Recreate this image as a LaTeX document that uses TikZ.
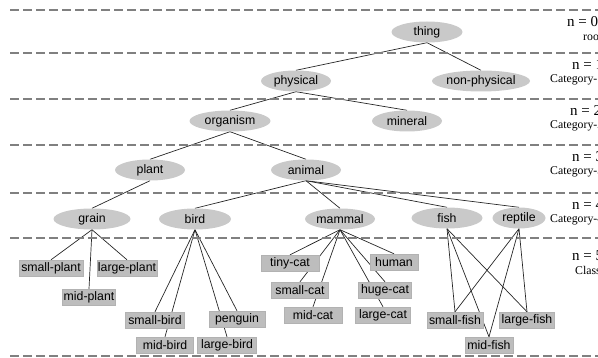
\documentclass[tikz,border=0pt]{standalone}
\usepackage{fontspec}
\setmainfont{Liberation Sans}
\newfontfamily\labelserif{Liberation Serif}
\usetikzlibrary{shapes.geometric,backgrounds}
\begin{document}
\begin{tikzpicture}[x=1pt,y=-1pt,
  ell/.style={ellipse, fill=black!21, inner sep=0pt, minimum height=21pt, font=\fontsize{12.3}{14}\selectfont},
  leaf/.style={rectangle, fill=black!26, draw=black!30, line width=0.4pt, inner sep=0pt, minimum height=16pt, font=\fontsize{12.3}{14}\selectfont},
  edge/.style={draw=black!85, line width=0.7pt},
  band/.style={draw=black!50, line width=1.3pt, dash pattern=on 9pt off 4pt},
  lvl/.style={anchor=west, inner sep=0pt, font=\labelserif\fontsize{15}{17}\selectfont},
  cat/.style={anchor=west, inner sep=0pt, font=\labelserif\fontsize{11.8}{13}\selectfont}]
\useasboundingbox (0,0) rectangle (598,358);
\clip (0,0) rectangle (598,358);

% level separators
\foreach \yy in {10,53,99,145,193,238,356}
  \draw[band] (10,\yy) -- (600,\yy);

% concept nodes
\node[ell, minimum width=71pt] (thing) at (427,32) {thing};
\node[ell, minimum width=70pt] (physical) at (296,81) {physical};
\node[ell, minimum width=98pt] (nonphys) at (481,81) {non-physical};
\node[ell, minimum width=81pt] (organism) at (230,121) {organism};
\node[ell, minimum width=70pt] (mineral) at (407,121) {mineral};
\node[ell, minimum width=70pt] (plant) at (150,170) {plant};
\node[ell, minimum width=70pt] (animal) at (306,170) {animal};
\node[ell, minimum width=77pt] (grain) at (92,219) {grain};
\node[ell, minimum width=72pt] (bird) at (195,219) {bird};
\node[ell, minimum width=70pt] (mammal) at (340,219) {mammal};
\node[ell, minimum width=71pt] (fish) at (447,218) {fish};
\node[ell, minimum width=53pt] (reptile) at (519,218) {reptile};

% class nodes
\node[leaf, minimum width=64pt] (smallplant) at (51,268) {small-plant};
\node[leaf, minimum width=60pt] (largeplant) at (127,268) {large-plant};
\node[leaf, minimum width=53pt] (midplant) at (89,297) {mid-plant};
\node[leaf, minimum width=59pt] (smallbird) at (155,320) {small-bird};
\node[leaf, minimum width=57pt] (midbird) at (165,345) {mid-bird};
\node[leaf, minimum width=56pt] (penguin) at (237,319) {penguin};
\node[leaf, minimum width=59pt] (largebird) at (227,345) {large-bird};
\node[leaf, minimum width=58pt] (tinycat) at (290,263) {tiny-cat};
\node[leaf, minimum width=57pt] (smallcat) at (300,290) {small-cat};
\node[leaf, minimum width=58pt] (midcat) at (313,315) {mid-cat};
\node[leaf, minimum width=48pt] (human) at (394,262) {human};
\node[leaf, minimum width=53pt] (hugecat) at (385,290) {huge-cat};
\node[leaf, minimum width=55pt] (largecat) at (383,315) {large-cat};
\node[leaf, minimum width=56pt] (smallfish) at (455,320) {small-fish};
\node[leaf, minimum width=55pt] (largefish) at (527,320) {large-fish};
\node[leaf, minimum width=48pt] (midfish) at (489,345) {mid-fish};

% level labels (clipped at the right edge, as in the reference)
\node[lvl] (n0) at (567,22) {n = 0};
\node[cat] (c0) at (583,37) {root};
\node[lvl] (n1) at (572,65) {n = 1};
\node[cat] (c1) at (550,80) {Category-1};
\node[lvl] (n2) at (570,111) {n = 2};
\node[cat] (c2) at (550,126) {Category-2};
\node[lvl] (n3) at (572,157) {n = 3};
\node[cat] (c3) at (550,172) {Category-3};
\node[lvl] (n4) at (572,205) {n = 4};
\node[cat] (c4) at (550,220) {Category-4};
\node[lvl] (n5) at (572,256) {n = 5};
\node[cat] (c5) at (575,270) {Class};

\begin{pgfonlayer}{background}
  \draw[edge] (thing.south) -- (physical.north);
  \draw[edge] (thing.south) -- (nonphys.north);
  \draw[edge] (physical.south) -- (organism.north);
  \draw[edge] (physical.south) -- (mineral.north);
  \draw[edge] (organism.south) -- (plant.north);
  \draw[edge] (organism.south) -- (animal.north);
  \draw[edge] (plant.south) -- (grain.north);
  \foreach \c in {bird,mammal,fish,reptile}
    \draw[edge] (animal.south) -- (\c.north);
  \foreach \c in {smallplant,midplant,largeplant}
    \draw[edge] (grain.south) -- (\c.north);
  \foreach \c in {smallbird,midbird,penguin,largebird}
    \draw[edge] (bird.south) -- (\c.north);
  \foreach \c in {tinycat,smallcat,midcat,human,hugecat,largecat}
    \draw[edge] (mammal.south) -- (\c.north);
  \foreach \c in {smallfish,midfish,largefish}
    \draw[edge] (fish.south) -- (\c.north);
  \foreach \c in {smallfish,midfish,largefish}
    \draw[edge] (reptile.south) -- (\c.north);
\end{pgfonlayer}
\end{tikzpicture}
\end{document}
